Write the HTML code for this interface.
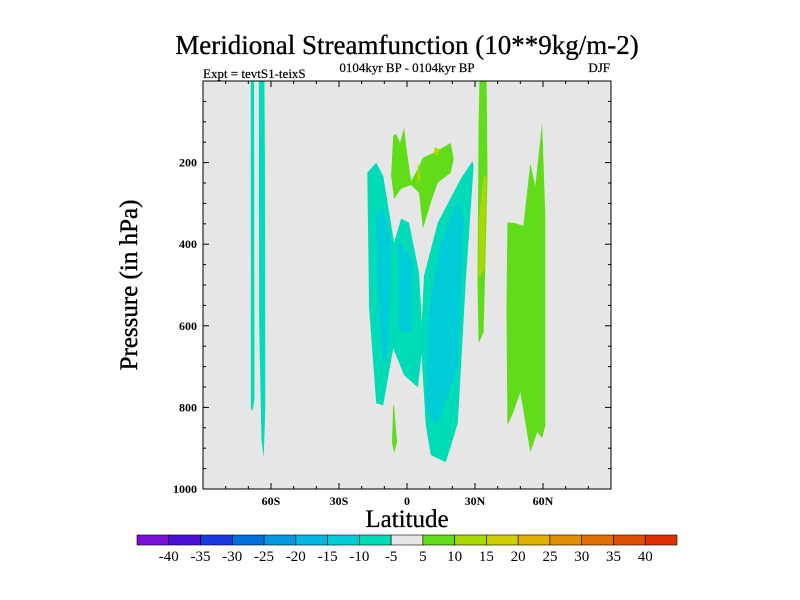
<!DOCTYPE html>
<html><head><meta charset="utf-8"><style>
body{margin:0;background:#fff;}
svg{display:block;font-family:"Liberation Serif",serif;}
</style></head><body>
<svg id="chart" width="800" height="600">
<text x="407" y="54" font-size="27" text-anchor="middle" stroke="#000" stroke-width="0.3">Meridional Streamfunction (10**9kg/m-2)</text>
<text x="407" y="72" font-size="13" text-anchor="middle" stroke="#000" stroke-width="0.2">0104kyr BP - 0104kyr BP</text>
<text x="203" y="78" font-size="13" stroke="#000" stroke-width="0.2">Expt = tevtS1-teixS</text>
<text x="610" y="72" font-size="13" text-anchor="end" stroke="#000" stroke-width="0.2">DJF</text>
<rect x="203" y="81" width="408" height="408" fill="#e6e6e6"/>
<g id="fills"></g>
<rect x="203" y="81" width="408" height="408" fill="none" stroke="#000" stroke-width="1"/>
<g id="ticks"></g>
<text transform="translate(137,285) rotate(-90)" font-size="25" text-anchor="middle" stroke="#000" stroke-width="0.4">Pressure (in hPa)</text>
<text x="407" y="527" font-size="25" text-anchor="middle" stroke="#000" stroke-width="0.3">Latitude</text>
<g id="colorbar"></g>
</svg>
<script>
const levels=[-40,-35,-30,-25,-20,-15,-10,-5,5,10,15,20,25,30,35,40];
const cbColors=["#7a10d8","#4a10d8","#1a38e0","#0070e0","#0098e0","#00b8e0","#00ccd8","#00dcb8","#e6e6e6","#60dc18","#a8d800","#d0d000","#e0b000","#e09000","#e07000","#e05000","#e03000"];
const xTickVals=[-60,-30,0,30,60];
const xTickLabels=["60S","30S","0","30N","60N"];
const yTickVals=[200,400,600,800,1000];
const contourLevels=["neg10","neg10","neg10","neg10","neg15","neg15","neg15","pos5","pos10","pos10","pos5","pos10","pos5","pos5"];
const contourPolys=[
 [[-68.9,0],[-67.5,0],[-67.3,780],[-68.2,810],[-68.9,800]],
 [[-65.4,0],[-62.9,0],[-62.7,200],[-62.5,800],[-63.2,924],[-64.2,880],[-65.2,600]],
 [[-17.5,225],[-13.6,200],[-10.5,232],[-5.7,396],[-2.6,337],[0.9,347],[5.3,469],[7.0,641],[4.8,751],[-1.3,721],[-6.1,655],[-10.5,795],[-13.6,790],[-16.7,557]],
 [[7.5,477],[13.6,347],[23.7,240],[28.9,196],[29.4,208],[25.9,494],[22.4,839],[17.1,934],[10.5,917],[8.3,844],[6.1,641]],
 [[-13.6,330],[-10.5,313],[-7.0,396],[-8.3,665],[-10.5,704],[-12.7,557]],
 [[-3.9,403],[-2.6,396],[2.6,445],[1.8,616],[-3.5,611]],
 [[9.6,557],[14.9,396],[22.4,293],[25.0,337],[22.4,704],[12.7,848],[8.3,795]],
 [[-6.1,134],[-4.8,130],[-3.1,152],[-1.3,115],[-0.4,159],[1.8,245],[4.8,215],[7.0,188],[11.8,176],[19.3,152],[20.6,191],[19.3,225],[13.6,249],[10.5,298],[7.0,362],[5.3,274],[1.8,255],[-2.6,264],[-5.7,289],[-7.0,232]],
 [[12.3,162],[14.5,168],[13.6,182],[11.8,180]],
 [[4.8,200],[6.1,240],[4.4,252]],
 [[32.0,0],[35.1,0],[35.5,232],[33.8,616],[31.6,643],[31.1,494],[31.6,103]],
 [[33.8,232],[35.1,232],[34.2,460],[31.6,484],[31.6,347]],
 [[44.3,347],[46.9,347],[51.3,355],[54.4,203],[56.6,257],[59.6,103],[61.0,330],[61.0,844],[59.6,875],[57.5,861],[54.4,910],[50.0,763],[46.9,812],[44.3,844],[43.9,557]],
 [[-6.1,795],[-5.7,795],[-4.4,885],[-5.7,912],[-6.6,885]]
];
const levelColors={neg10:"#00dcb8",neg15:"#00ccd8",pos5:"#60dc18",pos10:"#a8d800"};
const NS="http://www.w3.org/2000/svg";
const X0=203,X1=611,Y0=81,Y1=489;
function xs(lat){return X0+(lat+90)*(X1-X0)/180;}
function ys(p){return Y0+p*(Y1-Y0)/1000;}
function mk(tag,attrs,parent){const e=document.createElementNS(NS,tag);for(const k in attrs)e.setAttribute(k,attrs[k]);parent.appendChild(e);return e;}
const fills=document.getElementById('fills');
contourPolys.forEach((poly,i)=>{
 const pts=poly.map(d=>xs(d[0]).toFixed(1)+","+ys(d[1]).toFixed(1)).join(" ");
 const el=mk('polygon',{points:pts,fill:levelColors[contourLevels[i]]},fills);
 
 
});
const tk=document.getElementById('ticks');
for(let lat=-80;lat<=80;lat+=10){
 const major=lat%30===0;const L=major?6:3;const x=xs(lat);
 const a=mk('line',{x1:x,x2:x,y1:Y1,y2:Y1-L,stroke:"#000"},tk);
 
 
 const b=mk('line',{x1:x,x2:x,y1:Y0,y2:Y0+L,stroke:"#000"},tk);
 
 
}
xTickVals.forEach((v,i)=>{
 const t=mk('text',{x:xs(v),y:Y1+16,'font-size':12,'font-weight':'bold','text-anchor':'middle'},tk);
 t.textContent=xTickLabels[i];
 
 
});
for(let p=50;p<1000;p+=50){
 const major=p%200===0;const L=major?6:3;const y=ys(p);
 const a=mk('line',{x1:X0,x2:X0+L,y1:y,y2:y,stroke:"#000"},tk);
 
 
 const b=mk('line',{x1:X1,x2:X1-L,y1:y,y2:y,stroke:"#000"},tk);
 
 
}
yTickVals.forEach(v=>{
 const t=mk('text',{x:X0-6,y:ys(v)+4,'font-size':12,'font-weight':'bold','text-anchor':'end'},tk);
 t.textContent=v;
 
 
});
const cb=document.getElementById('colorbar');
const cbX=137,cbW=540,cbY=535,cbH=10,bw=cbW/cbColors.length;
cbColors.forEach((c,i)=>{
 const r=mk('rect',{x:cbX+i*bw,y:cbY,width:bw,height:cbH,fill:c,stroke:"#000","stroke-width":0.6},cb);
 
 
});
levels.forEach((v,i)=>{
 const t=mk('text',{x:cbX+(i+1)*bw,y:cbY+26,'font-size':15,'text-anchor':'middle'},cb);
 t.textContent=v;
 
 
});
</script>
</body></html>
